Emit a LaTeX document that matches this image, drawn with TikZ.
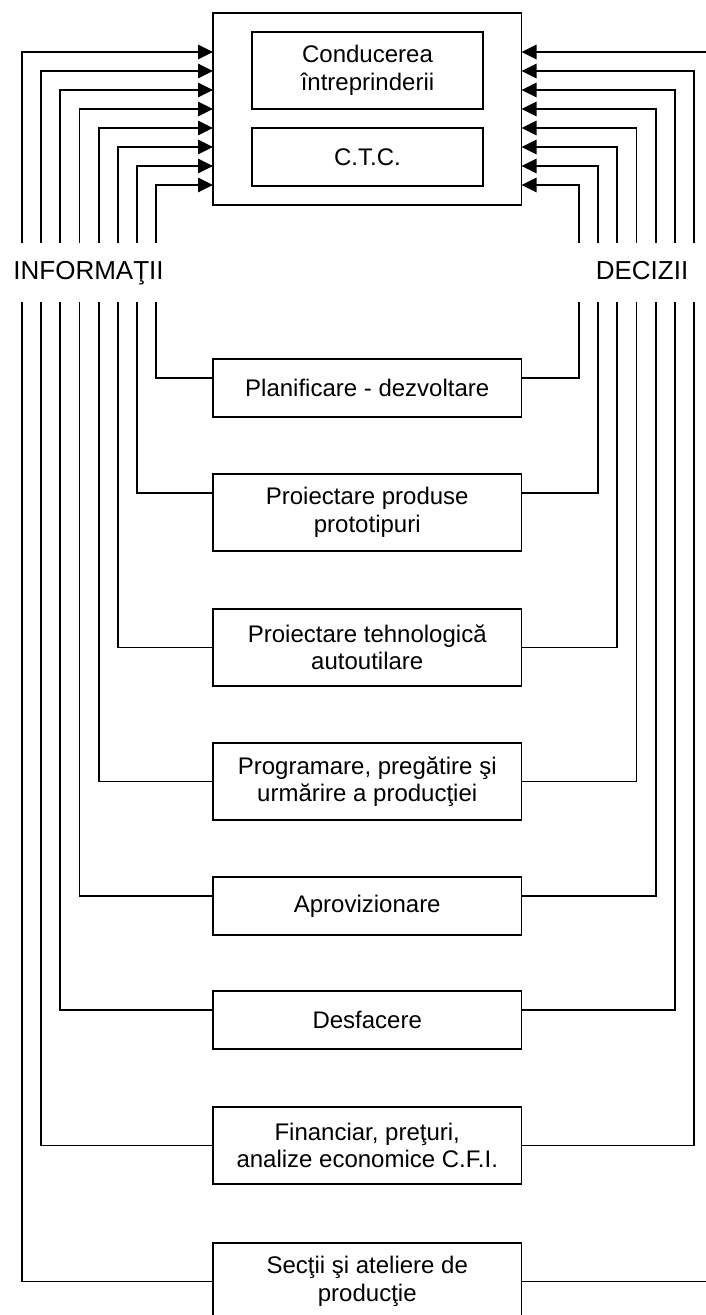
\documentclass[tikz,border=0pt]{standalone}
\usepackage{fontspec}
\setmainfont{Liberation Sans}
\usetikzlibrary{arrows.meta}
\begin{document}
\begin{tikzpicture}[x=1pt,y=-1pt,
  line width=1.8pt,
  box/.style={draw, line width=1.8pt, minimum width=308.5pt, inner sep=0pt, outer sep=0pt,
    align=center, font=\fontsize{24}{27.5}\selectfont},
  lbl/.style={font=\fontsize{26}{30}\selectfont, inner sep=0pt},
  link/.style={line width=1.8pt},
  feed/.style={line width=1.8pt, -{Triangle[length=15pt,width=14.5pt]}}]
\useasboundingbox (0,0) rectangle (706,1315);
\clip (0,0) rectangle (706,1315);

% management block
\node[box, minimum height=192pt] (top) at (367.25,109) {};
\node[box, minimum width=231pt, minimum height=77pt] (lead) at (367.5,70.5) {Conducerea\\întreprinderii};
\node[box, minimum width=231pt, minimum height=58pt] (ctc) at (367.5,157) {C.T.C.};

% departments
\node[box, minimum height=58pt] (b1) at (367.25,388) {Planificare - dezvoltare};
\node[box, minimum height=77pt] (b2) at (367.25,512.5) {Proiectare produse\\prototipuri};
\node[box, minimum height=77pt] (b3) at (367.25,647.5) {Proiectare tehnologică\\autoutilare};
\node[box, minimum height=77pt] (b4) at (367.25,781.5) {Programare, pregătire şi\\urmărire a producţiei};
\node[box, minimum height=58pt] (b5) at (367.25,906) {Aprovizionare};
\node[box, minimum height=58pt] (b6) at (367.25,1020) {Desfacere};
\node[box, minimum height=77pt] (b7) at (367.25,1145.5) {Financiar, preţuri,\\analize economice C.F.I.};
\node[box, minimum height=77pt] (b8) at (367.25,1281.5) {Secţii şi ateliere de\\producţie};

% labels of the two flows
\node[lbl, anchor=base] (info) at (88.5,279) {INFORMAŢII};
\node[lbl, anchor=base] (dec) at (642,279) {DECIZII};

% information flows (left) and decision flows (right)
\foreach \i/\off/\xl/\xr/\dy in {1/19pt/156/579/172pt, 2/19pt/136.9/598.1/153pt,
    3/38.5pt/117.7/617.3/134pt, 4/38.5pt/98.6/636.4/115pt, 5/19pt/79.4/655.6/96pt,
    6/19pt/60.3/674.7/77pt, 7/38.5pt/41.2/693.8/58pt, 8/38.5pt/22/713/39pt}{
  \draw[link] ([yshift=-\off]b\i.north west) -| (\xl,302);
  \draw[feed] (\xl,243) |- ([yshift=-\dy]top.north west);
  \draw[link] ([yshift=-\off]b\i.north east) -| (\xr,302);
  \draw[feed] (\xr,243) |- ([yshift=-\dy]top.north east);
}
\end{tikzpicture}
\end{document}
